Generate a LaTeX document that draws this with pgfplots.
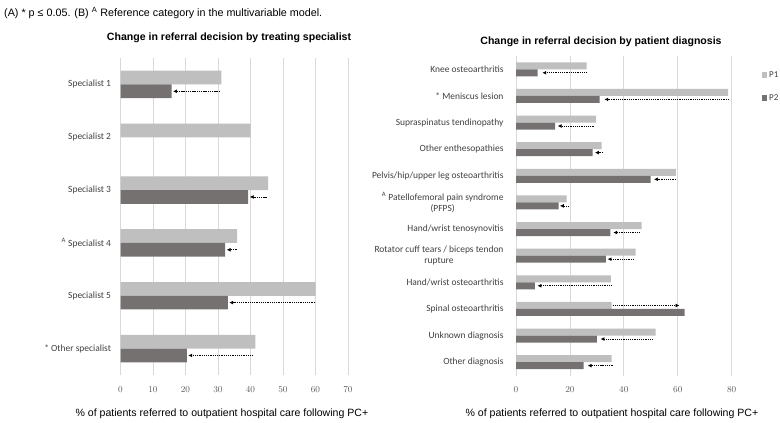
\documentclass[border=0pt]{standalone}
\usepackage{pgfplots}
\usepackage{pgfplotstable}
\pgfplotsset{compat=1.18}
\usepackage{fontspec}
\setmainfont{Carlito}
\newfontfamily\arial{Liberation Sans}
\usetikzlibrary{arrows.meta}
\definecolor{pone}{HTML}{BFBFBF}
\definecolor{ptwo}{HTML}{767171}
\definecolor{gridc}{HTML}{D9D9D9}
\definecolor{labc}{HTML}{404040}
\definecolor{tickc}{HTML}{595959}

% idx: 5 = top category
\pgfplotstableread{
idx p1 p2 ax au dy
5 31.0 15.7 30.6 -14.4 -0.13
4 40.0 nan nan nan -0.13
3 45.4 39.3 45.0 -5.2 -0.13
2 35.9 32.2 35.7 -3.0 -0.13
1 60.0 33.0 59.8 -26.3 -0.13
0 41.5 20.4 40.9 -20.0 -0.13
}\spec

\pgfplotstableread{
idx p1 p2 ax au dy
11 26.2 8.0 26.5 -16.7 -0.13
10 78.7 31.0 79.0 -46.2 -0.13
9 29.7 14.5 28.8 -13.3 -0.13
8 31.8 28.4 32.4 -3.1 -0.13
7 59.3 49.9 59.3 -8.1 -0.13
6 18.8 15.8 19.7 -3.4 -0.13
5 46.6 35.0 46.1 -10.0 -0.13
4 44.4 33.3 43.8 -9.8 -0.13
3 35.2 7.0 35.7 -27.7 -0.13
2 35.5 62.5 35.8 24.8 0.13
1 51.8 30.0 50.9 -19.5 -0.13
0 35.5 25.1 35.8 -9.2 -0.13
}\diag

\pgfplotsset{
  common/.style={
    scale only axis,
    axis line style={draw=none},
    major tick length=0pt,
    xmajorgrids, grid style={gridc, line width=0.8bp},
    xmin=0, xtick pos=bottom, ytick pos=left,
    tick label style={font=\fontsize{9}{10}\selectfont, text=tickc},
    yticklabel style={font=\fontsize{9.5}{11.5}\selectfont, text=labc, align=center, xshift=-6bp},
    xticklabel style={yshift=-8bp},
    every axis title/.style={font=\arial\bfseries\fontsize{10.6}{12}\selectfont, anchor=center},
    every axis x label/.style={font=\arial\fontsize{10.6}{12}\selectfont, anchor=center},
  },
  arr/.style={line width=0.6bp, black, dash pattern=on 1.3bp off 0.9bp,
    quiver={u=\thisrow{au}, v=0,
      every arrow/.append style={-{Latex[length=3.8bp,width=3.8bp]}}}},
}

\begin{document}
\begin{tikzpicture}
\path[use as bounding box] (0bp,0bp) rectangle (780bp,423bp);
\node[anchor=west, font=\arial\fontsize{10.8}{12}\selectfont, inner sep=0pt] at (4bp,410bp) {(A) * p ≤ 0.05. (B) \textsuperscript{A} Reference category in the multivariable model.};

\begin{axis}[common,
  at={(120.5bp,48bp)}, anchor=south west,
  width=227.5bp, height=317bp,
  xmax=70, xtick={0,10,...,70},
  ymin=-0.5, ymax=5.5, ytick={0,...,5},
  yticklabels={{* Other specialist},{Specialist 5},{\textsuperscript{A} Specialist 4},{Specialist 3},{Specialist 2},{Specialist 1}},
  title={Change in referral decision by treating specialist},
  title style={at={(0.477,1)}, yshift=20bp},
  xlabel={\% of patients referred to outpatient hospital care following PC+},
  xlabel style={at={(0.446,0)}, yshift=-39bp},
]
\addplot[xbar, fill=pone, draw=none, bar width=13.7bp, bar shift=6.85bp] table[x=p1, y=idx] {\spec};
\addplot[xbar, fill=ptwo, draw=none, bar width=13.7bp, bar shift=-6.85bp] table[x=p2, y=idx] {\spec};
\addplot[arr] table[x=ax, y expr=\thisrow{idx}+\thisrow{dy}] {\spec};
\end{axis}

\begin{axis}[common,
  at={(516bp,47.5bp)}, anchor=south west,
  width=215.7bp, height=319.5bp,
  xmax=80, xtick={0,20,...,80},
  ymin=-0.5, ymax=11.5, ytick={0,...,11},
  yticklabel style={xshift=-3bp},
  yticklabels={{Other diagnosis},{Unknown diagnosis},{Spinal osteoarthritis},{Hand/wrist osteoarthritis},{Rotator cuff tears / biceps tendon\\rupture},{Hand/wrist tenosynovitis},{\textsuperscript{A} Patellofemoral pain syndrome\\(PFPS)},{Pelvis/hip/upper leg osteoarthritis},{Other enthesopathies},{Supraspinatus tendinopathy},{* Meniscus lesion},{Knee osteoarthritis}},
  title={Change in referral decision by patient diagnosis},
  title style={at={(0.394,1)}, yshift=14.5bp},
  xlabel={\% of patients referred to outpatient hospital care following PC+},
  xlabel style={at={(0.445,0)}, yshift=-38.5bp},
  legend style={draw=none, fill=none, at={(1.124,0.965)}, anchor=north west,
    font=\fontsize{9}{10}\selectfont, text=labc, row sep=12bp},
  legend cell align=left,
]
\addplot[xbar, fill=pone, draw=none, bar width=7bp, bar shift=3.5bp,
  area legend, legend image code/.code={\fill[pone] (0bp,-2.8bp) rectangle (5.6bp,2.8bp);}] table[x=p1, y=idx] {\diag};
\addlegendentry{P1}
\addplot[xbar, fill=ptwo, draw=none, bar width=7bp, bar shift=-3.5bp,
  area legend, legend image code/.code={\fill[ptwo] (0bp,-2.8bp) rectangle (5.6bp,2.8bp);}] table[x=p2, y=idx] {\diag};
\addlegendentry{P2}
\addplot[arr, forget plot] table[x=ax, y expr=\thisrow{idx}+\thisrow{dy}] {\diag};
\end{axis}
\end{tikzpicture}
\end{document}
